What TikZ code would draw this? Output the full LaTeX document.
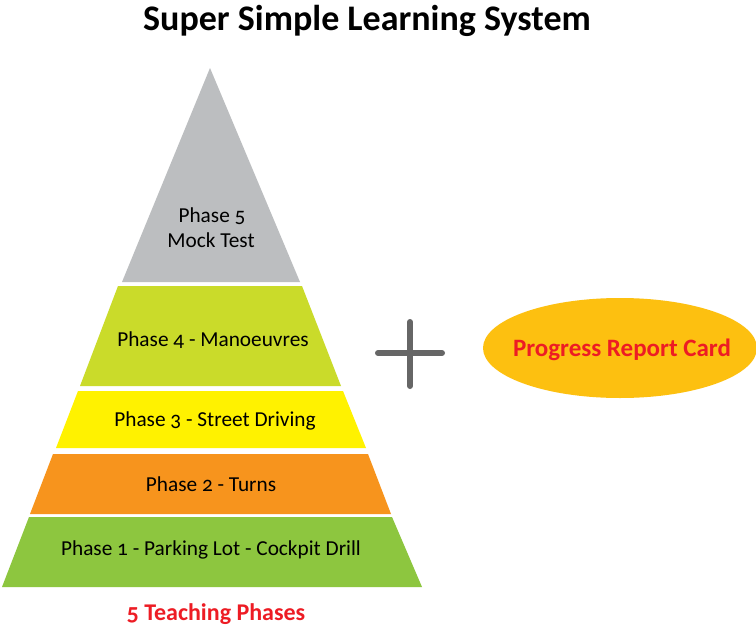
\documentclass[tikz,border=0pt]{standalone}
\usepackage{fontspec}
\setmainfont{Carlito}[Numbers=OldStyle]
\usetikzlibrary{shapes.geometric}
\definecolor{cgrey}{HTML}{BCBEC0}
\definecolor{cp4}{HTML}{CADB2A}
\definecolor{cp3}{HTML}{FFF200}
\definecolor{cp2}{HTML}{F7941D}
\definecolor{cp1}{HTML}{8DC63F}
\definecolor{cell}{HTML}{FDC010}
\definecolor{cred}{HTML}{ED1C24}
\definecolor{cplus}{HTML}{666666}
\tikzset{
  lbl/.style={font=\fontsize{21.3}{25}\selectfont, text=black, align=center, inner sep=0pt},
  redlbl/.style={font=\fontsize{24.5}{29}\selectfont\bfseries, text=cred, inner sep=0pt},
}
\begin{document}
\begin{tikzpicture}[x=1pt,y=-1pt]
\useasboundingbox (0,0) rectangle (756,629);
\fill[white] (0,0) rectangle (756,629);
% bands
\fill[cgrey] (210,68) -- (300,282) -- (122,282) -- cycle;
\fill[cp4] (118,286) -- (302,286) -- (341,386) -- (80,386) -- cycle;
\fill[cp3] (78,391) -- (343,391) -- (366,448) -- (56,448) -- cycle;
\fill[cp2] (53,454) -- (368,454) -- (391,514) -- (30,514) -- cycle;
\fill[cp1] (29,517) -- (392,517) -- (422,587) -- (2,587) -- cycle;
% title
\node[font=\fontsize{36}{42}\selectfont\bfseries, inner sep=0pt] (title) at (367,21) {Super Simple Learning System};
% labels
\node[lbl, text height=14pt, text depth=5pt] (p5a) at (212,218) {Phase 5};
\node[lbl, text height=14pt, text depth=5pt] (p5b) at (211,243) {Mock Test};
\node[lbl] (p4) at (213,340) {Phase 4 - Manoeuvres};
\node[lbl] (p3) at (215,421) {Phase 3 - Street Driving};
\node[lbl] (p2) at (211,484) {Phase 2 - Turns};
\node[lbl] (p1) at (211,550) {Phase 1 - Parking Lot - Cockpit Drill};
\node[redlbl, font=\fontsize{24}{29}\selectfont\bfseries] (phases) at (216,614) {5 Teaching Phases};
% plus
\draw[cplus, line width=6pt, line cap=round] (410,322) -- (410,386);
\draw[cplus, line width=6pt, line cap=round] (378,353) -- (442,353);
% ellipse
\node[ellipse, fill=cell, minimum width=274pt, minimum height=100pt, inner sep=0pt] (card) at (620,348) {};
\node[redlbl, font=\fontsize{25}{30}\selectfont\bfseries] (cardtxt) at (622,350) {Progress Report Card};
\end{tikzpicture}
\end{document}
